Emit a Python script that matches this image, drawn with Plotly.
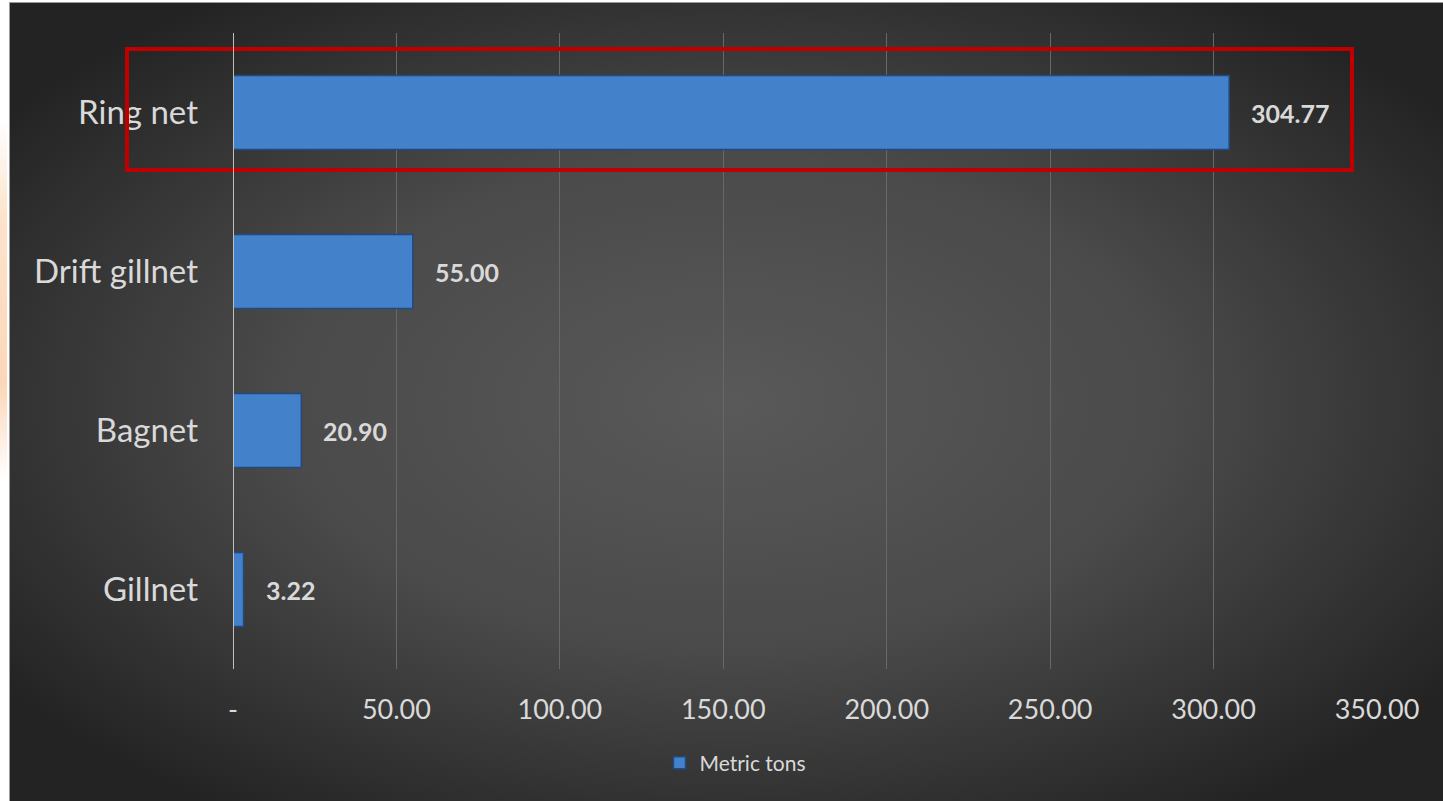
import plotly.graph_objects as go
import urllib.parse

categories = ["Gillnet", "Bagnet", "Drift gillnet", "Ring net"]
values = [3.22, 20.90, 55.00, 304.77]
tick_vals = [0, 50, 100, 150, 200, 250, 300, 350]
tick_text = ["-", "50.00", "100.00", "150.00", "200.00", "250.00", "300.00", "350.00"]
series_name = "Metric tons"

W, H = 1443, 801
L, R, T, B = 233, 66, 33, 132
pw, ph = W - L - R, H - T - B
FONT = "Lato, Open Sans, sans-serif"

bg_svg = f"""<svg xmlns='http://www.w3.org/2000/svg' width='{W}' height='{H}' viewBox='0 0 {W} {H}' preserveAspectRatio='none'>
<defs>
<radialGradient id='g' cx='50%' cy='50%' r='62%'>
<stop offset='0%' stop-color='#595959'/>
<stop offset='50%' stop-color='#4a4a4a'/>
<stop offset='100%' stop-color='#232323'/>
</radialGradient>
<linearGradient id='p' x1='0' y1='0' x2='0' y2='1'>
<stop offset='0%' stop-color='#ffffff'/>
<stop offset='20%' stop-color='#fde3cc'/>
<stop offset='55%' stop-color='#fbd7b8'/>
<stop offset='75%' stop-color='#ffffff'/>
<stop offset='100%' stop-color='#ffffff'/>
</linearGradient>
</defs>
<rect x='0' y='0' width='{W}' height='{H}' fill='#ffffff'/>
<rect x='0' y='120' width='7' height='480' fill='url(#p)'/>
<rect x='9' y='2' width='{W-9}' height='{H-2}' fill='#9a9a9a'/>
<rect x='10' y='3' width='{W-10}' height='{H-3}' fill='url(#g)'/>
</svg>"""
bg_uri = "data:image/svg+xml;charset=utf-8," + urllib.parse.quote(bg_svg)


def px_x(p):
    return (p - L) / pw


def px_y(p):
    return 1 - (p - T) / ph


fig = go.Figure()
fig.add_trace(go.Bar(
    y=categories, x=values, orientation="h", name=series_name,
    marker=dict(color="#4381cb", line=dict(color="#234a80", width=1.5)),
    width=0.465, showlegend=True, hoverinfo="x+y",
))

for c, v in zip(categories, values):
    fig.add_annotation(x=v, y=c, xref="x", yref="y", text=f"<b>{v:.2f}</b>",
                       showarrow=False, xanchor="left", yanchor="middle", xshift=20,
                       font=dict(family=FONT, size=25, color="#d9d9d9"))

fig.add_layout_image(dict(
    source=bg_uri, xref="paper", yref="paper",
    x=-L / pw, y=1 + T / ph, sizex=W / pw, sizey=H / ph,
    xanchor="left", yanchor="top", sizing="stretch", layer="below",
))

fig.add_shape(type="rect", xref="paper", yref="paper",
              x0=px_x(127), x1=px_x(1352), y0=px_y(170), y1=px_y(49),
              line=dict(color="#c00000", width=4), fillcolor="rgba(0,0,0,0)")
fig.add_shape(type="line", xref="x", yref="paper", x0=0, x1=0, y0=0, y1=1,
              line=dict(color="#bfbfbf", width=2))

fig.update_layout(
    width=W, height=H,
    margin=dict(l=L, r=R, t=T, b=B),
    paper_bgcolor="#ffffff", plot_bgcolor="rgba(0,0,0,0)",
    font=dict(family=FONT, color="#d9d9d9"),
    xaxis=dict(range=[0, 350], tickvals=tick_vals, ticktext=tick_text,
               showgrid=True, gridcolor="#686868", gridwidth=1, zeroline=False,
               showline=False, ticks="", ticklabelstandoff=22,
               tickfont=dict(size=27, color="#d9d9d9")),
    yaxis=dict(categoryorder="array", categoryarray=categories,
               showgrid=False, zeroline=False, showline=False, ticks="",
               ticklabelstandoff=34, tickfont=dict(size=33, color="#d9d9d9")),
    legend=dict(orientation="h", x=px_x(735), xanchor="center", y=px_y(763), yanchor="middle",
                font=dict(size=21, color="#d9d9d9"), bgcolor="rgba(0,0,0,0)"),
    bargap=0.535,
)

fig.write_html("out.html", config={"displayModeBar": False},
               post_script="document.body.style.margin='0';document.body.style.overflow='hidden';")
